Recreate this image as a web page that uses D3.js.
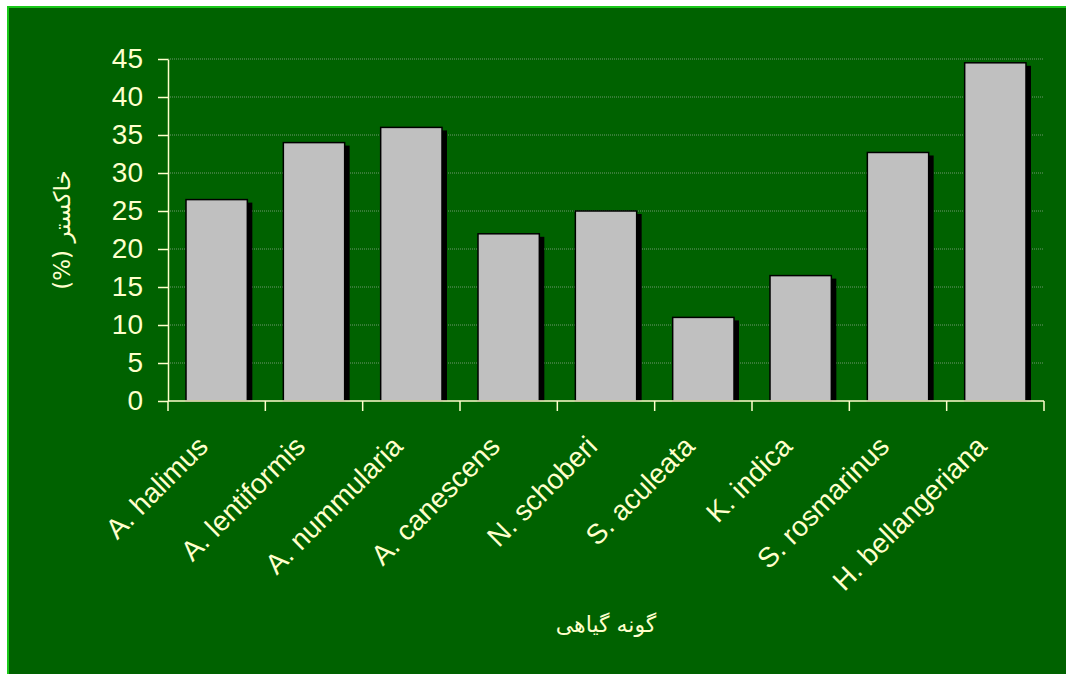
<!DOCTYPE html>
<html>
<head>
<meta charset="utf-8">
<script src="https://cdn.jsdelivr.net/npm/d3@7/dist/d3.min.js"></script>
<style>
  html, body { margin: 0; padding: 0; background: #ffffff; }
  svg { display: block; }
</style>
</head>
<body>
<svg id="chart" width="1066" height="674"></svg>
<script>
// Ash content (%) of rangeland plant species
const categories = [
  "A. halimus", "A. lentiformis", "A. nummularia", "A. canescens",
  "N. schoberi", "S. aculeata", "K. indica", "S. rosmarinus", "H. bellangeriana"
];
const values = [26.5, 34, 36, 22, 25, 11, 16.5, 32.7, 44.5];
const yTicks = [0, 5, 10, 15, 20, 25, 30, 35, 40, 45];
const yTitle = "خاکستر (%)";
const xTitle = "گونه گیاهی";

const W = 1066, H = 674;
const plot = { left: 168, right: 1044, top: 59, bottom: 401 };
const ink = "#ffffcc";

const svg = d3.select("#chart");

// panel background with bright edge
svg.append("rect")
  .attr("x", 7).attr("y", 6).attr("width", W - 7).attr("height", H - 6)
  .attr("fill", "#19c819");
svg.append("rect")
  .attr("x", 9).attr("y", 8).attr("width", W - 9).attr("height", H - 8)
  .attr("fill", "#006200");

const x = d3.scaleBand().domain(categories).range([plot.left, plot.right]).padding(0);
const y = d3.scaleLinear().domain([0, 45]).range([plot.bottom, plot.top]);

// dotted horizontal gridlines
svg.append("g")
  .selectAll("line")
  .data(yTicks.filter(t => t > 0))
  .join("line")
  .attr("x1", plot.left).attr("x2", plot.right)
  .attr("y1", d => y(d)).attr("y2", d => y(d))
  .attr("stroke", "#6f976f")
  .attr("stroke-width", 1)
  .attr("stroke-dasharray", "1,1");

const barW = x.bandwidth() * 0.63;
const barOff = (x.bandwidth() - barW) / 2;
const shX = 5, shY = 3;

// drop shadows
svg.append("g")
  .selectAll("rect")
  .data(categories)
  .join("rect")
  .attr("x", (d, i) => x(d) + barOff + shX)
  .attr("y", (d, i) => y(values[i]) + shY)
  .attr("width", barW)
  .attr("height", (d, i) => y(0) - y(values[i]) - shY)
  .attr("fill", "#000000");

// bars
svg.append("g")
  .selectAll("rect")
  .data(categories)
  .join("rect")
  .attr("x", d => x(d) + barOff)
  .attr("y", (d, i) => y(values[i]))
  .attr("width", barW)
  .attr("height", (d, i) => y(0) - y(values[i]))
  .attr("fill", "#c0c0c0")
  .attr("stroke", "#000000")
  .attr("stroke-width", 1.5);

// y axis
const yAxis = svg.append("g")
  .attr("transform", `translate(${plot.left},0)`)
  .call(d3.axisLeft(y).tickValues(yTicks).tickSize(10).tickPadding(15).tickSizeOuter(0));
yAxis.select(".domain").attr("stroke", ink).attr("stroke-width", 1.5);
yAxis.selectAll(".tick line").attr("stroke", ink).attr("stroke-width", 1.5);
yAxis.selectAll(".tick text")
  .attr("fill", ink)
  .style("font-family", "'Liberation Sans', Arial, sans-serif")
  .style("font-size", "28px");

// x axis: ticks on category boundaries
const xAxisG = svg.append("g").attr("transform", `translate(0,${plot.bottom})`);
xAxisG.append("line")
  .attr("x1", plot.left).attr("x2", plot.right)
  .attr("y1", 0).attr("y2", 0)
  .attr("stroke", ink).attr("stroke-width", 1.5);
const bounds = categories.map(d => x(d)).concat([plot.right]);
xAxisG.selectAll("line.tk")
  .data(bounds)
  .join("line")
  .attr("class", "tk")
  .attr("x1", d => d).attr("x2", d => d)
  .attr("y1", 0).attr("y2", 10)
  .attr("stroke", ink).attr("stroke-width", 1.5);

// rotated category labels
svg.append("g")
  .selectAll("text")
  .data(categories)
  .join("text")
  .attr("transform", d => `translate(${x(d) + x.bandwidth() / 2 - 7},448) rotate(-45)`)
  .attr("text-anchor", "end")
  .attr("fill", ink)
  .style("font-family", "'Liberation Sans', Arial, sans-serif")
  .style("font-size", "28px")
  .text(d => d);

// axis titles
svg.append("text")
  .attr("transform", `translate(62,${(plot.top + plot.bottom) / 2}) rotate(-90)`)
  .attr("text-anchor", "middle")
  .attr("dy", "0.35em")
  .attr("direction", "rtl")
  .attr("fill", ink)
  .style("font-family", "'DejaVu Sans', 'Noto Sans', sans-serif")
  .style("font-size", "23px")
  .text(yTitle);

svg.append("text")
  .attr("x", (plot.left + plot.right) / 2)
  .attr("y", 632)
  .attr("text-anchor", "middle")
  .attr("direction", "rtl")
  .attr("fill", ink)
  .style("font-family", "'DejaVu Sans', 'Noto Sans', sans-serif")
  .style("font-size", "22px")
  .text(xTitle);
</script>
</body>
</html>
